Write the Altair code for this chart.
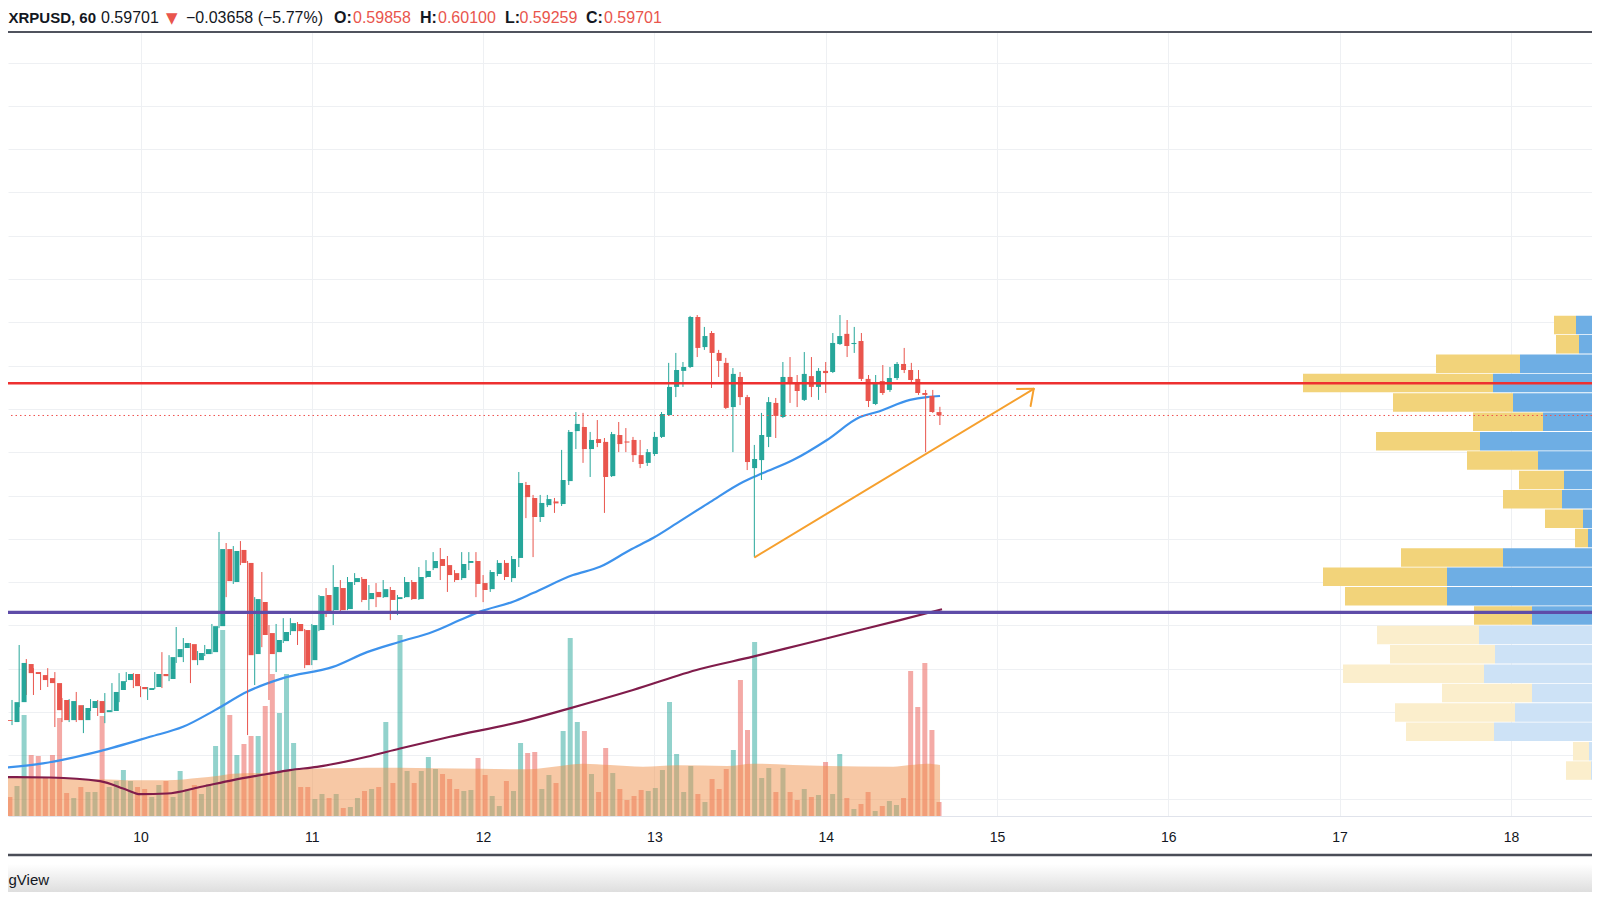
import altair as alt
import pandas as pd

# ---------------- header values ----------------
TICKER = "XRPUSD"
INTERVAL = "60"
LAST_PRICE = 0.59701
CHANGE = -0.03658
CHANGE_PCT = -5.77
HDR_OPEN, HDR_HIGH, HDR_LOW, HDR_CLOSE = 0.59858, 0.60100, 0.59259, 0.59701
FOOTER = "gView"

# ---------------- hourly candles, starting day 9 05:00 ----------------
FIRST_DAY = 9
FIRST_HOUR = 5
OPEN = [0.4563, 0.4554, 0.4646, 0.4822, 0.4785, 0.4771, 0.4757, 0.4734, 0.4656, 0.4563,
        0.4632, 0.4563, 0.4619, 0.4651, 0.4600, 0.4605, 0.4702, 0.4748, 0.4776, 0.4716,
        0.4702, 0.4716, 0.4776, 0.4753, 0.4854, 0.4896, 0.4914, 0.4840, 0.4868, 0.4877,
        0.4997, 0.5353, 0.5201, 0.5349, 0.5289, 0.4868, 0.5108, 0.4965, 0.4877, 0.4928,
        0.4974, 0.5007, 0.4979, 0.4840, 0.4979, 0.5141, 0.5071, 0.5173, 0.5076, 0.5201,
        0.5215, 0.5122, 0.5155, 0.5131, 0.5164, 0.5122, 0.5131, 0.5201, 0.5122, 0.5224,
        0.5265, 0.5307, 0.5279, 0.5242, 0.5219, 0.5289, 0.5298, 0.5196, 0.5168, 0.5238,
        0.5289, 0.5219, 0.5312, 0.5649, 0.5589, 0.5501, 0.5556, 0.5573, 0.5561, 0.5667,
        0.5898, 0.5917, 0.5815, 0.5861, 0.5848, 0.5690, 0.5880, 0.5850, 0.5857, 0.5787,
        0.5751, 0.5792, 0.5871, 0.5972, 0.6102, 0.6176, 0.6194, 0.6425, 0.6286, 0.6351,
        0.6259, 0.6213, 0.6009, 0.6148, 0.6055, 0.5727, 0.5764, 0.5871, 0.6028, 0.5963,
        0.6148, 0.6120, 0.6042, 0.6152, 0.6102, 0.6176, 0.6171, 0.6300, 0.6347, 0.6300,
        0.6314, 0.6139, 0.6023, 0.6129, 0.6088, 0.6143, 0.6208, 0.6180, 0.6139, 0.6074,
        0.6060, 0.59858]
HIGH = [0.4582, 0.4656, 0.4910, 0.4845, 0.4803, 0.4785, 0.4803, 0.4785, 0.4665, 0.4660,
        0.4693, 0.4632, 0.4660, 0.4656, 0.4688, 0.4734, 0.4780, 0.4785, 0.4780, 0.4720,
        0.4716, 0.4785, 0.4877, 0.4863, 0.4993, 0.4942, 0.4919, 0.4882, 0.4910, 0.5007,
        0.5432, 0.5381, 0.5367, 0.5390, 0.5298, 0.5131, 0.5247, 0.5002, 0.5007, 0.5034,
        0.5034, 0.5016, 0.4984, 0.5007, 0.5141, 0.5173, 0.5279, 0.5210, 0.5224, 0.5242,
        0.5224, 0.5187, 0.5196, 0.5210, 0.5178, 0.5141, 0.5224, 0.5210, 0.5270, 0.5302,
        0.5339, 0.5358, 0.5321, 0.5256, 0.5339, 0.5339, 0.5339, 0.5233, 0.5256, 0.5302,
        0.5302, 0.5321, 0.5709, 0.5663, 0.5603, 0.5603, 0.5603, 0.5589, 0.5811, 0.5903,
        0.5986, 0.5982, 0.5894, 0.5949, 0.5866, 0.5894, 0.5940, 0.5912, 0.5871, 0.5857,
        0.5815, 0.5894, 0.5986, 0.6213, 0.6259, 0.6217, 0.6430, 0.6434, 0.6379, 0.6360,
        0.6273, 0.6236, 0.6189, 0.6171, 0.6065, 0.5834, 0.5982, 0.6055, 0.6051, 0.6217,
        0.6240, 0.6157, 0.6263, 0.6240, 0.6189, 0.6217, 0.6351, 0.6434, 0.6411, 0.6379,
        0.6351, 0.6157, 0.6157, 0.6203, 0.6194, 0.6217, 0.6282, 0.6213, 0.6180, 0.6088,
        0.6088, 0.60100]
LOW = [0.4549, 0.4540, 0.4623, 0.4679, 0.4679, 0.4702, 0.4716, 0.4531, 0.4554, 0.4554,
       0.4554, 0.4503, 0.4605, 0.4582, 0.4549, 0.4600, 0.4646, 0.4739, 0.4711, 0.4669,
       0.4656, 0.4706, 0.4711, 0.4743, 0.4827, 0.4831, 0.4734, 0.4817, 0.4859, 0.4868,
       0.4988, 0.5131, 0.5192, 0.5279, 0.4494, 0.4725, 0.4900, 0.4656, 0.4785, 0.4919,
       0.4956, 0.4910, 0.4803, 0.4817, 0.4974, 0.5039, 0.5002, 0.5062, 0.5071, 0.5187,
       0.5108, 0.5071, 0.5085, 0.5127, 0.5025, 0.5048, 0.5127, 0.5118, 0.5118, 0.5219,
       0.5256, 0.5210, 0.5155, 0.5201, 0.5210, 0.5256, 0.5131, 0.5108, 0.5155, 0.5228,
       0.5210, 0.5201, 0.5270, 0.5496, 0.5316, 0.5478, 0.5547, 0.5520, 0.5552, 0.5649,
       0.5815, 0.5751, 0.5686, 0.5824, 0.5520, 0.5686, 0.5801, 0.5801, 0.5755, 0.5727,
       0.5737, 0.5783, 0.5866, 0.5968, 0.6055, 0.6102, 0.6189, 0.6240, 0.6273, 0.6097,
       0.6148, 0.6000, 0.5801, 0.6018, 0.5718, 0.5316, 0.5672, 0.5824, 0.5866, 0.5958,
       0.6028, 0.6009, 0.6037, 0.6055, 0.6042, 0.6074, 0.6166, 0.6296, 0.6240, 0.6259,
       0.6129, 0.6009, 0.6018, 0.6065, 0.6079, 0.6134, 0.6166, 0.6120, 0.6065, 0.5801,
       0.5982, 0.59259]
CLOSE = [0.4559, 0.4646, 0.4827, 0.4780, 0.4776, 0.4748, 0.4734, 0.4609, 0.4563, 0.4651,
         0.4563, 0.4619, 0.4651, 0.4596, 0.4609, 0.4693, 0.4743, 0.4776, 0.4720, 0.4706,
         0.4711, 0.4776, 0.4766, 0.4854, 0.4891, 0.4919, 0.4840, 0.4873, 0.4891, 0.4997,
         0.5353, 0.5205, 0.5344, 0.5289, 0.4863, 0.5122, 0.4956, 0.4868, 0.4933, 0.4970,
         0.5011, 0.4974, 0.4817, 0.5002, 0.5136, 0.5062, 0.5178, 0.5071, 0.5201, 0.5219,
         0.5118, 0.5150, 0.5131, 0.5168, 0.5118, 0.5131, 0.5201, 0.5122, 0.5224, 0.5252,
         0.5298, 0.5275, 0.5233, 0.5210, 0.5284, 0.5298, 0.5192, 0.5164, 0.5247, 0.5289,
         0.5224, 0.5307, 0.5658, 0.5593, 0.5501, 0.5566, 0.5584, 0.5564, 0.5672, 0.5894,
         0.5931, 0.5815, 0.5857, 0.5843, 0.5686, 0.5884, 0.5838, 0.5845, 0.5787, 0.5746,
         0.5801, 0.5871, 0.5977, 0.6102, 0.6180, 0.6194, 0.6425, 0.6282, 0.6337, 0.6259,
         0.6222, 0.6005, 0.6162, 0.6055, 0.5755, 0.5769, 0.5880, 0.6032, 0.5968, 0.6148,
         0.6120, 0.6083, 0.6162, 0.6102, 0.6176, 0.6166, 0.6305, 0.6337, 0.6291, 0.6305,
         0.6139, 0.6037, 0.6120, 0.6074, 0.6143, 0.6208, 0.6180, 0.6134, 0.6074, 0.6065,
         0.5986, 0.59701]
VOLUME = [19, 30, 101, 61, 60, 38, 61, 98, 23, 18,
          29, 24, 24, 100, 29, 35, 46, 35, 29, 27,
          19, 31, 35, 19, 45, 27, 31, 22, 32, 70,
          186, 101, 61, 72, 80, 80, 110, 142, 103, 142,
          73, 29, 29, 17, 22, 18, 22, 8, 9, 18,
          25, 27, 29, 94, 33, 181, 45, 33, 45, 59,
          47, 42, 37, 27, 25, 26, 58, 41, 20, 10,
          35, 25, 73, 63, 64, 27, 41, 33, 85, 178,
          94, 85, 42, 24, 68, 43, 27, 16, 20, 26,
          25, 28, 46, 114, 62, 24, 50, 22, 14, 37,
          27, 47, 66, 136, 86, 174, 38, 48, 24, 48,
          24, 16, 27, 19, 21, 54, 22, 62, 18, 7,
          12, 24, 5, 10, 15, 11, 18, 145, 109, 153,
          86, 14]

DAY_TICKS = [10, 11, 12, 13, 14, 15, 16, 17, 18]
PRICE_GRID = [0.42, 0.44, 0.46, 0.48, 0.50, 0.52, 0.54, 0.56, 0.58,
              0.60, 0.62, 0.64, 0.66, 0.68, 0.70, 0.72, 0.74, 0.76]

# ---------------- indicators ----------------
MA_FAST_T = [9.1798, 9.4308, 9.7636, 10.0555, 10.2481, 10.4349, 10.6217, 10.8319, 11.1238,
             11.3223, 11.5149, 11.7076, 11.8652, 11.9819, 12.1746, 12.2913, 12.5248, 12.6824,
             12.8576, 12.9918, 13.1319, 13.3246, 13.5172, 13.6340, 13.8091, 14.0076, 14.2003,
             14.2995, 14.4922, 14.5914, 14.6673]
MA_FAST_P = [0.4341, 0.4363, 0.4420, 0.4486, 0.4532, 0.4609, 0.4694, 0.4757, 0.4809,
             0.4877, 0.4925, 0.4971, 0.5025, 0.5064, 0.5110, 0.5150, 0.5233, 0.5271,
             0.5349, 0.5404, 0.5473, 0.5570, 0.5663, 0.5704, 0.5764, 0.5857, 0.5963,
             0.5986, 0.6042, 0.6055, 0.6060]
MA_SLOW_T = [9.1798, 9.4717, 9.7636, 9.9212, 9.9971, 10.1547, 10.3473, 10.5400, 10.7385,
             10.8727, 11.0304, 11.3223, 11.5149, 11.8068, 12.2154, 12.4898, 12.8751, 13.2662,
             13.5756, 13.8500, 14.1594, 14.4338, 14.6790]
MA_SLOW_P = [0.4300, 0.4298, 0.4281, 0.4240, 0.4221, 0.4224, 0.4254, 0.4286, 0.4314,
             0.4332, 0.4347, 0.4394, 0.4432, 0.4486, 0.4555, 0.4614, 0.4702, 0.4799,
             0.4856, 0.4910, 0.4971, 0.5025, 0.5075]
VOL_MA_T = [9.1798, 9.3724, 9.5709, 9.7636, 9.9562, 10.1547, 10.3473, 10.4466, 10.5400, 10.7385,
            10.9311, 11.1238, 11.3223, 11.5149, 11.7076, 11.9819, 12.2563, 12.4489, 12.5832,
            12.7408, 12.9335, 13.1319, 13.4238, 13.5756, 13.8091, 14.0076, 14.3929, 14.4922,
            14.5914, 14.6673]
VOL_MA_V = [38, 38, 37.3, 36.7, 35.7, 35.7, 38.3, 40, 42.3, 43.3,
            46.7, 47.7, 48.3, 48.3, 47.7, 47.3, 46.7, 50, 52.3,
            51, 49.3, 50.7, 50, 52.3, 51, 50, 49.3, 51,
            52.3, 51]

# ---------------- drawn levels / annotation ----------------
RESISTANCE = 0.6119
SUPPORT = 0.5061
ARROW_T = [13.5873, 15.2143]
ARROW_P = [0.5316, 0.6093]
ARROW_HEAD_T = [15.1168, 15.1962]
ARROW_HEAD_P = [0.6092, 0.6014]

# ---------------- visible-range volume profile ----------------
VP_MID = [0.6388, 0.6299, 0.6209, 0.6120, 0.6030, 0.5941, 0.5851, 0.5762, 0.5672, 0.5583,
          0.5493, 0.5404, 0.5314, 0.5225, 0.5135, 0.5046, 0.4956, 0.4867, 0.4777, 0.4688,
          0.4598, 0.4509, 0.4419, 0.4330]
VP_BIN = 0.00895
VP_UP = [24, 21, 80, 107, 87, 57, 120, 62, 36, 38, 17, 12, 97, 153, 153, 68,
         121, 105, 116, 68, 85, 106, 11, 9]
VP_DOWN = [22, 23, 84, 190, 120, 70, 104, 71, 45, 59, 38, 13, 102, 124, 102, 58,
           102, 105, 141, 90, 120, 88, 16, 25]
VP_VALUE_AREA_ROWS = 16

# ---------------- styling ----------------
FONT = "Liberation Sans"
TXT = "#131722"
GREEN = "#26a69a"
RED = "#e9554d"
GRID_C = "#eef0f3"
W, H = 1584, 784

xs = alt.Scale(domain=[9.2265, 18.4734], nice=False, zero=False)
ys = alt.Scale(domain=[0.41201, 0.77413], nice=False, zero=False)
vs = alt.Scale(domain=[0, 784], nice=False, zero=True)
dir_scale = alt.Scale(domain=["up", "down"], range=[GREEN, RED])

n = len(OPEN)
candles = pd.DataFrame({
    "t": [FIRST_DAY + (FIRST_HOUR + i) / 24 for i in range(n)],
    "o": OPEN, "h": HIGH, "l": LOW, "c": CLOSE, "v": VOLUME,
})
candles["dir"] = ["up" if c >= o else "down" for o, c in zip(OPEN, CLOSE)]

fast_df = pd.DataFrame({"t": MA_FAST_T, "p": MA_FAST_P})
slow_df = pd.DataFrame({"t": MA_SLOW_T, "p": MA_SLOW_P})
vma_df = pd.DataFrame({"t": VOL_MA_T, "v": VOL_MA_V})

rows = []
for i, mid in enumerate(VP_MID):
    va = i < VP_VALUE_AREA_ROWS
    lo = mid - VP_BIN / 2 + 0.0002
    hi = mid + VP_BIN / 2 - 0.0002
    rows.append({"lo": lo, "hi": hi, "x0": 0, "x1": VP_UP[i], "cat": "up_va" if va else "up_out"})
    rows.append({"lo": lo, "hi": hi, "x0": VP_UP[i], "x1": VP_UP[i] + VP_DOWN[i],
                 "cat": "down_va" if va else "down_out"})
vp_df = pd.DataFrame(rows)

arrow_df = pd.DataFrame({
    "t": [ARROW_T[0], ARROW_HEAD_T[0], ARROW_HEAD_T[1]],
    "p": [ARROW_P[0], ARROW_HEAD_P[0], ARROW_HEAD_P[1]],
    "t2": [ARROW_T[1]] * 3,
    "p2": [ARROW_P[1]] * 3,
})

one = pd.DataFrame({"a": [0]})

# ---------------- layers ----------------
axes = alt.Chart(candles).mark_point(opacity=0).encode(
    x=alt.X("t:Q", scale=xs, axis=alt.Axis(
        values=DAY_TICKS, format="d", grid=True, gridColor=GRID_C, gridWidth=1,
        domain=True, domainColor="#e0e3eb", domainWidth=1, ticks=False, tickSize=0,
        labelFontSize=14, labelFont=FONT, labelColor=TXT, labelPadding=21,
        labelBaseline="middle", labelFlush=False, title=None)),
    y=alt.Y("c:Q", scale=ys, axis=alt.Axis(
        values=PRICE_GRID, grid=True, gridColor=GRID_C, gridWidth=1, labels=False,
        ticks=False, domain=False, title=None)),
)

vol = alt.Chart(candles).mark_bar(size=5, opacity=0.5, orient="vertical").encode(
    x=alt.X("t:Q", scale=xs, axis=None),
    y=alt.Y("v:Q", scale=vs, axis=None),
    color=alt.Color("dir:N", scale=dir_scale, legend=None),
)

vma = alt.Chart(vma_df).mark_area(interpolate="monotone", color="#f0924c", opacity=0.5).encode(
    x=alt.X("t:Q", scale=xs, axis=None),
    y=alt.Y("v:Q", scale=vs, axis=None),
)

slow = alt.Chart(slow_df).mark_line(interpolate="monotone", color="#801c4b", strokeWidth=2.2).encode(
    x=alt.X("t:Q", scale=xs, axis=None),
    y=alt.Y("p:Q", scale=ys, axis=None),
)

profile = alt.Chart(vp_df).mark_rect().encode(
    x=alt.X("x0:Q", scale=alt.Scale(domain=[8, 1592], reverse=True, nice=False, zero=False), axis=None),
    x2="x1:Q",
    y=alt.Y("lo:Q", scale=ys, axis=None),
    y2="hi:Q",
    color=alt.Color("cat:N", scale=alt.Scale(
        domain=["up_va", "down_va", "up_out", "down_out"],
        range=["#6eaee4", "#f2d37a", "#cde2f6", "#fbeecc"]), legend=None),
)

fast = alt.Chart(fast_df).mark_line(interpolate="monotone", color="#3d92ec", strokeWidth=2.2).encode(
    x=alt.X("t:Q", scale=xs, axis=None),
    y=alt.Y("p:Q", scale=ys, axis=None),
)

wicks = alt.Chart(candles).mark_rule(strokeWidth=1).encode(
    x=alt.X("t:Q", scale=xs, axis=None),
    y=alt.Y("l:Q", scale=ys, axis=None),
    y2="h:Q",
    color=alt.Color("dir:N", scale=dir_scale, legend=None),
)

bodies = alt.Chart(candles).mark_bar(size=5, orient="vertical").encode(
    x=alt.X("t:Q", scale=xs, axis=None),
    y=alt.Y("o:Q", scale=ys, axis=None),
    y2="c:Q",
    color=alt.Color("dir:N", scale=dir_scale, legend=None),
)

res_line = alt.Chart(pd.DataFrame({"p": [RESISTANCE]})).mark_rule(color="#ee3030", strokeWidth=2.5).encode(
    y=alt.Y("p:Q", scale=ys, axis=None))
sup_line = alt.Chart(pd.DataFrame({"p": [SUPPORT]})).mark_rule(color="#5e4ca8", strokeWidth=3.2).encode(
    y=alt.Y("p:Q", scale=ys, axis=None))
last_line = alt.Chart(pd.DataFrame({"p": [LAST_PRICE]})).mark_rule(
    color="#ef5350", strokeWidth=1, strokeDash=[1.5, 3]).encode(y=alt.Y("p:Q", scale=ys, axis=None))

arrow = alt.Chart(arrow_df).mark_rule(color="#f6a02e", strokeWidth=2, strokeCap="round").encode(
    x=alt.X("t:Q", scale=xs, axis=None), x2="t2:Q",
    y=alt.Y("p:Q", scale=ys, axis=None), y2="p2:Q",
)


def label(text, x, y, color=TXT, weight="normal", size=16, align="left", font=FONT):
    return alt.Chart(pd.DataFrame({"s": [text]})).mark_text(
        align=align, baseline="alphabetic", font=font, fontSize=size,
        fontWeight=weight, color=color).encode(
        x=alt.value(x), y=alt.value(y), text="s:N")


def num(v):
    return f"{v:.5f}".replace("-", "\u2212")


HY = -9
DX = 7
texts = [
    label(f"{TICKER}, {INTERVAL}", 0.5, HY, weight="bold", size=15),
    label(num(LAST_PRICE), 86 + DX, HY),
    label("\u25BC", 151 + DX, HY - 0.5, color=RED, size=15, font="DejaVu Sans"),
    label(f"{num(CHANGE)} ({CHANGE_PCT:.2f}%)".replace("-", "\u2212"), 171 + DX, HY),
    label("O:", 319 + DX, HY, weight="bold"), label(num(HDR_OPEN), 338 + DX, HY, color=RED),
    label("H:", 405 + DX, HY, weight="bold"), label(num(HDR_HIGH), 423 + DX, HY, color=RED),
    label("L:", 490 + DX, HY, weight="bold"), label(num(HDR_LOW), 504.5 + DX, HY, color=RED),
    label("C:", 571 + DX, HY, weight="bold"), label(num(HDR_CLOSE), 589 + DX, HY, color=RED),
    label(FOOTER, 0.5, 853, size=15),
]

top_line = alt.Chart(one).mark_rule(color="#50535e", strokeWidth=2).encode(
    x=alt.value(0), x2=alt.value(W), y=alt.value(0))
bottom_line = alt.Chart(one).mark_rule(color="#4a4d57", strokeWidth=2.5).encode(
    x=alt.value(0), x2=alt.value(W), y=alt.value(823))
shade = alt.Chart(one).mark_rect(color=alt.LinearGradient(
    gradient="linear", x1=0, x2=0, y1=0, y2=1,
    stops=[alt.GradientStop(color="#ffffff", offset=0),
           alt.GradientStop(color="#dedede", offset=1)])).encode(
    x=alt.value(0), x2=alt.value(W), y=alt.value(832), y2=alt.value(860))

chart = alt.layer(
    axes, vol, vma, slow, profile, fast, wicks, bodies,
    res_line, sup_line, last_line, arrow,
    shade, top_line, bottom_line, *texts,
).resolve_scale(
    x="independent", y="independent", color="independent"
).properties(
    width=W, height=H,
    padding={"left": 0, "top": 24, "right": 0, "bottom": 76},
    autosize=alt.AutoSizeParams(type="none"),
    background="white",
).configure_view(stroke=None)

chart.save("out.html", embed_options={"renderer": "svg", "actions": False})
